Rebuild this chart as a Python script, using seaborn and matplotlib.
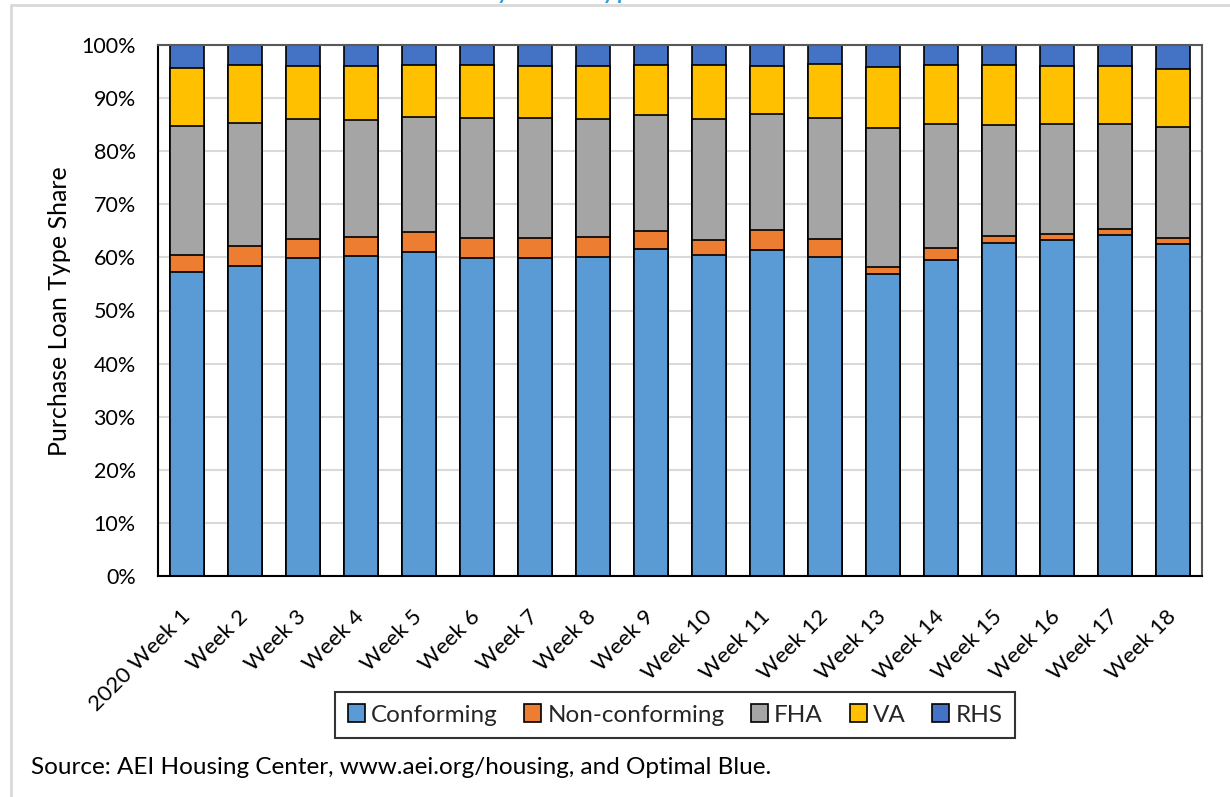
import numpy as np
import matplotlib
matplotlib.use("Agg")
import matplotlib.pyplot as plt
from matplotlib.patches import Patch
from matplotlib.lines import Line2D
import seaborn as sns

# Weekly purchase loan shares (%) by loan type
weeks = ["2020 Week 1", "Week 2", "Week 3", "Week 4", "Week 5", "Week 6",
         "Week 7", "Week 8", "Week 9", "Week 10", "Week 11", "Week 12",
         "Week 13", "Week 14", "Week 15", "Week 16", "Week 17", "Week 18"]
conforming = [57.2, 58.4, 59.9, 60.3, 61.0, 59.9, 59.8, 60.1, 61.6,
              60.5, 61.3, 60.0, 56.8, 59.6, 62.8, 63.2, 64.2, 62.5]
non_conforming = [3.2, 3.7, 3.6, 3.6, 3.7, 3.8, 3.9, 3.8, 3.3,
                  2.8, 3.9, 3.5, 1.3, 2.1, 1.3, 1.3, 1.2, 1.2]
fha = [24.4, 23.3, 22.6, 22.0, 21.7, 22.5, 22.6, 22.2, 21.9,
       22.7, 21.8, 22.7, 26.3, 23.5, 20.8, 20.6, 19.8, 20.9]
va = [10.8, 10.9, 9.9, 10.1, 9.8, 10.0, 9.8, 10.0, 9.4,
      10.3, 9.0, 10.2, 11.5, 11.0, 11.4, 11.0, 10.9, 10.9]
rhs = [4.4, 3.7, 4.0, 4.0, 3.8, 3.8, 3.9, 3.9, 3.8,
       3.7, 4.0, 3.6, 4.1, 3.8, 3.7, 3.9, 3.9, 4.5]

series_names = ["Conforming", "Non-conforming", "FHA", "VA", "RHS"]
series_colors = ["#5B9BD5", "#ED7D31", "#A5A5A5", "#FFC000", "#4472C4"]
y_ticks = [0, 10, 20, 30, 40, 50, 60, 70, 80, 90, 100]

sns.set_theme(style="white")
plt.rcParams["font.family"] = ["Lato", "DejaVu Sans"]

W, H = 1230, 797
fig = plt.figure(figsize=(W / 100, H / 100), dpi=100)
ax = fig.add_axes([158 / W, 1 - 576 / H, (1202 - 158) / W, (576 - 45) / H])

# Stacked bars: draw cumulative totals from the top layer down
values = np.array([conforming, non_conforming, fha, va, rhs])
cumulative = values.cumsum(axis=0)
for i in reversed(range(len(series_names))):
    sns.barplot(x=weeks, y=cumulative[i], order=weeks, color=series_colors[i],
                saturation=1, width=0.57, errorbar=None, edgecolor="black",
                linewidth=1.2, ax=ax, zorder=2)

ax.set_xlim(-0.5, len(weeks) - 0.5)
ax.set_ylim(0, 100)
ax.set_yticks(y_ticks)
ax.set_yticklabels([f"{v}%" for v in y_ticks])
ax.set_axisbelow(True)
ax.yaxis.grid(True, color="#d9d9d9", linewidth=1.5)
ax.xaxis.grid(False)
ax.set_xlabel("")
ax.set_ylabel("")

ax.tick_params(axis="y", length=0, pad=16, labelsize=15.5, labelcolor="black")
ax.tick_params(axis="x", length=0, pad=27, labelsize=16, labelcolor="black")
ax.set_xticks(range(len(weeks)))
ax.set_xticklabels(weeks, rotation=45, ha="right", va="center",
                   rotation_mode="anchor")

for side in ("left", "bottom"):
    ax.spines[side].set_color("black")
    ax.spines[side].set_linewidth(1.5)
for side in ("top", "right"):
    ax.spines[side].set_color("#595959")
    ax.spines[side].set_linewidth(1.5)

fig.text(60 / W, 1 - 311 / H, "Purchase Loan Type Share", rotation=90,
         ha="center", va="center", fontsize=18, color="black")

handles = [Patch(facecolor=c, edgecolor="black", linewidth=1.2)
           for c in series_colors]
leg = fig.legend(handles, series_names, loc="center",
                 bbox_to_anchor=(675 / W, 1 - 715 / H), ncol=5, fontsize=17.5,
                 frameon=True, fancybox=False, edgecolor="black",
                 handlelength=0.7, handleheight=0.7, handletextpad=0.25,
                 columnspacing=1.1, borderpad=0.5)
leg.get_frame().set_linewidth(1.5)

fig.text(31 / W, 1 - 768 / H,
         "Source: AEI Housing Center, www.aei.org/housing, and Optimal Blue.",
         ha="left", va="center", fontsize=17.5, color="black")

# Chart-area border and the heading sitting just above the canvas
border = "#d9d9d9"
fig.add_artist(Line2D([11 / W, 11 / W], [0, 1 - 5 / H],
                      transform=fig.transFigure, color=border, linewidth=2))
fig.add_artist(Line2D([11 / W, 1], [1 - 5 / H, 1 - 5 / H],
                      transform=fig.transFigure, color=border, linewidth=2))
fig.text(482 / W, 1 + 2 / H, "by Loan Type", style="italic",
         color="#2E9AD8", fontsize=21.5, ha="left", va="baseline")

fig.savefig("out.png", dpi=100)
